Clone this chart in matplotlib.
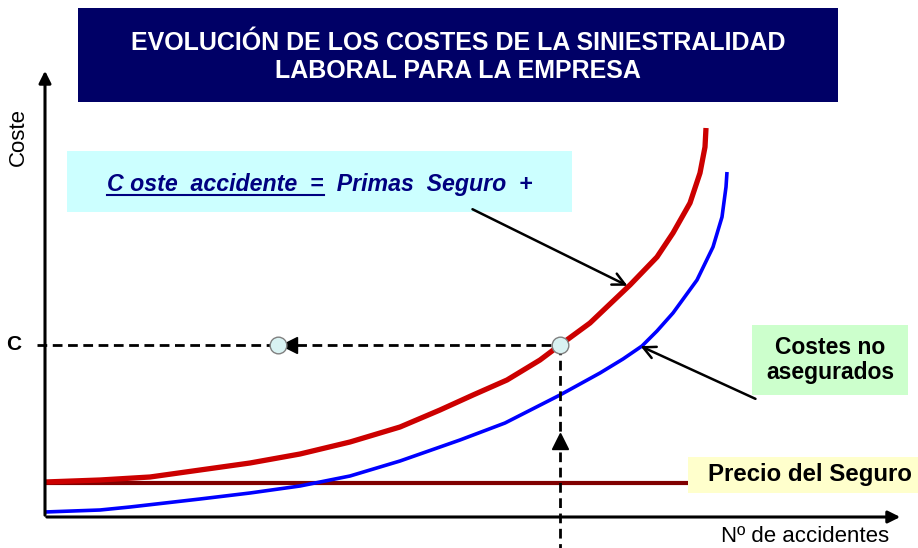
import matplotlib.pyplot as plt
from matplotlib.patches import Rectangle

# Curves (x = nº de accidentes, y = coste, arbitrary units)
red_x = [0, 55, 105, 155, 205, 255, 305, 355, 395, 428, 462, 495, 515, 545, 585, 612, 628, 645, 655, 660, 661]
red_y = [35, 37, 40, 47, 54, 63, 75, 90, 107, 122, 137, 157, 172, 194, 232, 260, 284, 314, 344, 370, 389]

blue_x = [0, 55, 85, 155, 205, 255, 305, 355, 415, 460, 515, 555, 578, 597, 612, 628, 652, 668, 677, 681, 682]
blue_y = [5, 7, 10, 18, 24, 31, 41, 56, 77, 94, 122, 144, 158, 171, 186, 204, 237, 270, 300, 330, 345]

precio_seguro = 34
precio_fin = 643
coste_c = 172
accidentes_c = 515
punto_izq = 233

title = "EVOLUCIÓN DE LOS COSTES DE LA SINIESTRALIDAD\nLABORAL PARA LA EMPRESA"

fig = plt.figure(figsize=(9.18, 5.48), dpi=100)
ax = fig.add_axes([0, 0, 1, 1])
ax.set_xlim(-45, 873)
ax.set_ylim(-31, 517)
ax.axis("off")
plt.rcParams["font.family"] = ["Liberation Sans", "DejaVu Sans"]

# axes with arrows
ax.annotate("", xy=(0, 449), xytext=(0, -1),
            arrowprops=dict(arrowstyle="-|>", lw=2.2, color="black", mutation_scale=18))
ax.annotate("", xy=(858, 0), xytext=(-1, 0),
            arrowprops=dict(arrowstyle="-|>", lw=2.2, color="black", mutation_scale=18))

# title box
ax.add_patch(Rectangle((33, 415), 760, 94, facecolor="#000066", edgecolor="none"))
ax.text(413, 460, title, color="white", fontsize=18, fontweight="bold",
        ha="center", va="center", linespacing=1.25)

# cyan formula box
ax.add_patch(Rectangle((22, 305), 505, 61, facecolor="#ccffff", edgecolor="none"))
t1 = ax.text(62, 326, "C oste  accidente  =", color="#000080", fontsize=16.7,
             fontweight="bold", fontstyle="italic", ha="left", va="baseline")
t2 = ax.annotate("  Primas  Seguro  +", xy=(1, 0), xycoords=t1, color="#000080",
                 fontsize=16.7, fontweight="bold", fontstyle="italic", ha="left", va="bottom")
fig.canvas.draw()
bb = t1.get_window_extent().transformed(ax.transData.inverted())
ax.plot([bb.x0, bb.x1], [322, 322], color="#000080", lw=1.5)

# price line
ax.plot([0, precio_fin], [precio_seguro, precio_seguro], color="#800000", lw=3, solid_capstyle="butt")

# curves
ax.plot(red_x, red_y, color="#cc0000", lw=3.8, solid_capstyle="butt", solid_joinstyle="round")
ax.plot(blue_x, blue_y, color="#0000ff", lw=2.6, solid_capstyle="butt", solid_joinstyle="round")

# dashed guides
ax.plot([-8, accidentes_c], [coste_c, coste_c], color="black", lw=2, ls=(0, (3.5, 2)))
ax.plot([accidentes_c, accidentes_c], [coste_c, -31], color="black", lw=2, ls=(0, (3.5, 2)))
ax.plot([punto_izq + 11], [coste_c], marker="<", ms=11, color="black", mec="black")
ax.plot([accidentes_c], [76], marker="^", ms=12, color="black", mec="black")
ax.plot([punto_izq, accidentes_c], [coste_c, coste_c], "o", ms=12,
        mfc="#d9f2f2", mec="#808080", mew=1)

# callout arrows
ax.annotate("", xy=(585, 230), xytext=(425, 309),
            arrowprops=dict(arrowstyle="->", lw=1.8, color="black", mutation_scale=22))
ax.annotate("", xy=(593, 172), xytext=(713, 117),
            arrowprops=dict(arrowstyle="->", lw=1.8, color="black", mutation_scale=22))

# green box
ax.add_patch(Rectangle((707, 122), 156, 70, facecolor="#ccffcc", edgecolor="none"))
ax.text(785, 157, "Costes no\nasegurados", fontsize=16.5, fontweight="bold",
        ha="center", va="center", linespacing=1.15)

# yellow box
ax.add_patch(Rectangle((643, 24), 240, 36, facecolor="#ffffcc", edgecolor="none"))
ax.text(663, 42, "Precio del Seguro", fontsize=17.3, fontweight="bold", ha="left", va="center")

# axis labels
ax.text(-31, coste_c, "C", fontsize=15, fontweight="bold", ha="center", va="center")
ax.text(-27, 380, "Coste", fontsize=16, rotation=90, ha="center", va="center")
ax.text(760, -20, "Nº de accidentes", fontsize=16, ha="center", va="center")

fig.savefig("out.png", dpi=100)
